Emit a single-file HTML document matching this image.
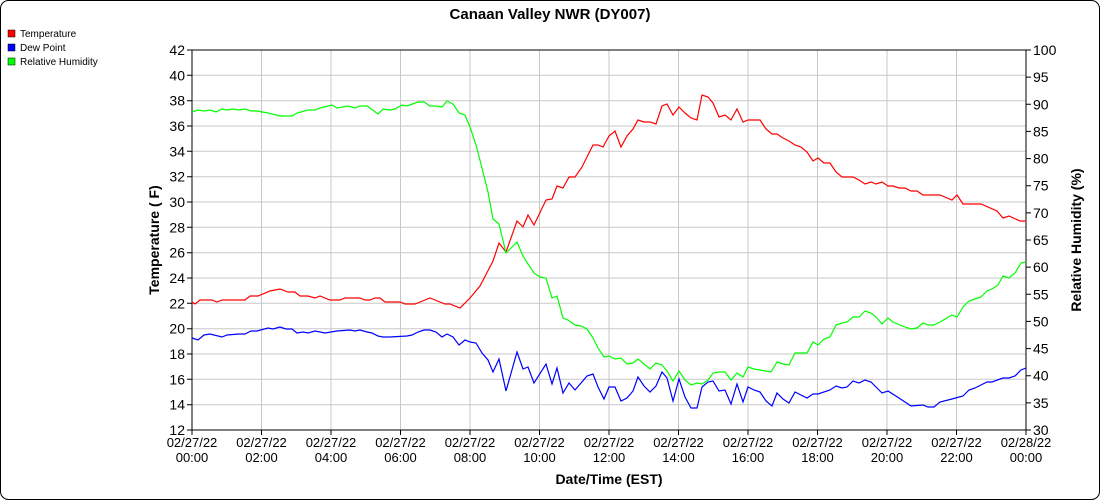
<!DOCTYPE html>
<html><head><meta charset="utf-8"><style>
html,body{margin:0;padding:0;background:#fff;}
svg{display:block;font-family:"Liberation Sans",Arial,sans-serif;}
</style></head><body>
<svg width="1100" height="500" viewBox="0 0 1100 500" xmlns="http://www.w3.org/2000/svg">
<rect x="0.5" y="0.5" width="1099" height="499" rx="8" fill="#fff" stroke="#000"/>
<text x="550" y="19" text-anchor="middle" font-size="15" font-weight="bold">Canaan Valley NWR (DY007)</text>
<g font-size="10">
<rect x="8" y="30" width="7" height="7" fill="#f00" stroke="#000" stroke-width="0.5"/><text x="20" y="37">Temperature</text>
<rect x="8" y="44" width="7" height="7" fill="#00f" stroke="#000" stroke-width="0.5"/><text x="20" y="51">Dew Point</text>
<rect x="8" y="58" width="7" height="7" fill="#0f0" stroke="#000" stroke-width="0.5"/><text x="20" y="65">Relative Humidity</text>
</g>
<g stroke="#c8c8c8" stroke-width="1">
<line x1="192" y1="75.3" x2="1026" y2="75.3"/><line x1="192" y1="100.7" x2="1026" y2="100.7"/><line x1="192" y1="126" x2="1026" y2="126"/><line x1="192" y1="151.3" x2="1026" y2="151.3"/><line x1="192" y1="176.7" x2="1026" y2="176.7"/><line x1="192" y1="202" x2="1026" y2="202"/><line x1="192" y1="227.3" x2="1026" y2="227.3"/><line x1="192" y1="252.7" x2="1026" y2="252.7"/><line x1="192" y1="278" x2="1026" y2="278"/><line x1="192" y1="303.3" x2="1026" y2="303.3"/><line x1="192" y1="328.7" x2="1026" y2="328.7"/><line x1="192" y1="354" x2="1026" y2="354"/><line x1="192" y1="379.3" x2="1026" y2="379.3"/><line x1="192" y1="404.7" x2="1026" y2="404.7"/>
<line x1="261.5" y1="50" x2="261.5" y2="430"/><line x1="331" y1="50" x2="331" y2="430"/><line x1="400.5" y1="50" x2="400.5" y2="430"/><line x1="470" y1="50" x2="470" y2="430"/><line x1="539.5" y1="50" x2="539.5" y2="430"/><line x1="609" y1="50" x2="609" y2="430"/><line x1="678.5" y1="50" x2="678.5" y2="430"/><line x1="748" y1="50" x2="748" y2="430"/><line x1="817.5" y1="50" x2="817.5" y2="430"/><line x1="887" y1="50" x2="887" y2="430"/><line x1="956.5" y1="50" x2="956.5" y2="430"/>
</g>
<path d="M192 50H1026M192 50V430H1026V50" fill="none" stroke="#000"/>
<g stroke="#000">
<path d="M187 50H192M187 75.3H192M187 100.7H192M187 126H192M187 151.3H192M187 176.7H192M187 202H192M187 227.3H192M187 252.7H192M187 278H192M187 303.3H192M187 328.7H192M187 354H192M187 379.3H192M187 404.7H192M187 430H192"/>
<path d="M1026 50H1031M1026 77.1H1031M1026 104.3H1031M1026 131.4H1031M1026 158.6H1031M1026 185.7H1031M1026 212.9H1031M1026 240H1031M1026 267.1H1031M1026 294.3H1031M1026 321.4H1031M1026 348.6H1031M1026 375.7H1031M1026 402.9H1031M1026 430H1031"/>
<path d="M192 430V435M261.5 430V435M331 430V435M400.5 430V435M470 430V435M539.5 430V435M609 430V435M678.5 430V435M748 430V435M817.5 430V435M887 430V435M956.5 430V435M1026 430V435"/>
</g>
<g font-size="14" text-anchor="end">
<text x="185" y="55">42</text><text x="185" y="80.3">40</text><text x="185" y="105.7">38</text><text x="185" y="131">36</text><text x="185" y="156.3">34</text><text x="185" y="181.7">32</text><text x="185" y="207">30</text><text x="185" y="232.3">28</text><text x="185" y="257.7">26</text><text x="185" y="283">24</text><text x="185" y="308.3">22</text><text x="185" y="333.7">20</text><text x="185" y="359">18</text><text x="185" y="384.3">16</text><text x="185" y="409.7">14</text><text x="185" y="435">12</text>
</g>
<g font-size="14">
<text x="1033" y="55">100</text><text x="1033" y="82.1">95</text><text x="1033" y="109.3">90</text><text x="1033" y="136.4">85</text><text x="1033" y="163.6">80</text><text x="1033" y="190.7">75</text><text x="1033" y="217.9">70</text><text x="1033" y="245">65</text><text x="1033" y="272.1">60</text><text x="1033" y="299.3">55</text><text x="1033" y="326.4">50</text><text x="1033" y="353.6">45</text><text x="1033" y="380.7">40</text><text x="1033" y="407.9">35</text><text x="1033" y="435">30</text>
</g>
<g font-size="13" text-anchor="middle">
<text x="192" y="447">02/27/22</text><text x="192" y="462">00:00</text>
<text x="261.5" y="447">02/27/22</text><text x="261.5" y="462">02:00</text>
<text x="331" y="447">02/27/22</text><text x="331" y="462">04:00</text>
<text x="400.5" y="447">02/27/22</text><text x="400.5" y="462">06:00</text>
<text x="470" y="447">02/27/22</text><text x="470" y="462">08:00</text>
<text x="539.5" y="447">02/27/22</text><text x="539.5" y="462">10:00</text>
<text x="609" y="447">02/27/22</text><text x="609" y="462">12:00</text>
<text x="678.5" y="447">02/27/22</text><text x="678.5" y="462">14:00</text>
<text x="748" y="447">02/27/22</text><text x="748" y="462">16:00</text>
<text x="817.5" y="447">02/27/22</text><text x="817.5" y="462">18:00</text>
<text x="887" y="447">02/27/22</text><text x="887" y="462">20:00</text>
<text x="956.5" y="447">02/27/22</text><text x="956.5" y="462">22:00</text>
<text x="1026" y="447">02/28/22</text><text x="1026" y="462">00:00</text>
</g>
<text x="609" y="484" text-anchor="middle" font-size="14" font-weight="bold">Date/Time (EST)</text>
<text transform="translate(159,240) rotate(-90)" text-anchor="middle" font-size="14" font-weight="bold">Temperature ( F)</text>
<text transform="translate(1081,240) rotate(-90)" text-anchor="middle" font-size="14" font-weight="bold">Relative Humidity (%)</text>
<g fill="none" stroke-width="1.2">
<polyline stroke="#f00" points="192,302 195,304 200,300 212,300 217,302 222,300 245,300 250,296 258,296 270,291 280,289 288,292 295,292 300,296 308,296 315,298 320,296 330,300 340,300 345,298 360,298 365,300 370,300 375,298 380,298 385,302 400,302 405,304 415,304 425,300 430,298 440,302 445,304 450,304 460,308 470,298 480,286 493,261 499,243 506,252 517,221 523,227 528,215 534,225 546,200 552,199 557,186 563,188 569,177 575,177 582,167 593,145 598,145 603,147 609,136 615,131 621,147 627,136 633,129 638,120 644,122 650,122 656,124 662,106 667,104 673,115 679,107 685,113 691,118 697,120 702,95 708,97 713,103 719,117 725,115 731,120 737,109 743,122 748,120 760,120 766,129 772,134 777,134 783,138 789,141 795,145 801,147 807,152 813,161 818,158 824,163 830,163 836,172 842,177 853,177 859,180 865,184 871,182 876,184 882,182 888,186 893,186 899,188 905,188 911,191 917,191 923,195 940,195 952,200 957,195 963,204 981,204 997,211 1003,218 1009,216 1020,221 1026,221"/>
<polyline stroke="#0f0" points="192,112 198,110 204,111 210,110 216,112 222,109 227,110 233,109 239,110 245,109 251,111 257,111 268,113 280,116 292,116 297,113 308,110 315,110 320,108 332,105 337,108 348,106 355,108 360,106 367,106 378,114 383,109 390,110 395,109 402,105 407,106 418,102 424,102 430,106 436,106 442,107 447,101 453,104 459,113 465,115 470,127 476,145 482,168 488,192 493,219 499,224 506,253 511,248 517,242 523,256 528,264 534,273 540,277 546,278 552,298 557,296 563,318 568,320 575,325 581,326 587,329 593,338 598,348 604,357 609,356 615,359 621,358 627,364 633,363 638,359 644,364 650,369 656,363 662,365 667,371 673,381 679,371 685,380 691,385 697,383 702,384 708,380 713,373 719,372 725,372 731,380 737,373 743,377 748,367 754,369 771,372 777,362 783,364 789,365 795,353 807,353 813,342 818,345 824,339 830,337 836,325 842,323 847,322 853,317 859,317 865,311 871,313 876,317 882,324 888,318 893,322 905,327 911,329 917,328 923,323 928,325 934,325 940,322 952,315 957,317 963,307 969,301 975,299 981,297 987,291 992,289 998,285 1003,276 1009,278 1015,273 1021,263 1026,262"/>
<polyline stroke="#00f" points="192,338 198,340 204,335 210,334 222,337 227,335 239,334 245,334 251,331 257,331 268,328 273,329 280,327 286,329 292,329 297,333 303,332 308,333 315,331 325,333 337,331 350,330 355,331 360,330 367,332 372,333 378,336 383,337 390,337 407,336 412,335 418,332 424,330 430,330 436,332 442,337 447,334 453,337 459,345 465,340 470,342 476,343 482,353 488,360 493,372 499,359 506,391 517,352 523,369 528,367 534,383 546,364 552,384 557,368 563,393 569,383 575,390 587,376 593,374 598,387 604,399 609,387 615,387 621,401 627,398 633,391 638,377 644,386 650,392 656,386 662,372 667,378 673,401 679,379 685,397 691,408 697,408 702,387 708,382 713,381 719,391 725,390 731,404 737,384 743,402 748,387 754,390 760,392 766,401 772,406 777,393 783,399 789,403 795,392 807,398 813,394 818,394 830,390 836,386 842,388 847,387 853,381 859,383 865,380 871,382 882,393 888,391 899,398 905,402 911,406 923,405 928,407 934,407 940,402 952,399 963,396 969,390 975,388 987,382 992,382 1003,378 1009,378 1015,376 1021,370 1026,368"/>
</g>
</svg>
</body></html>
